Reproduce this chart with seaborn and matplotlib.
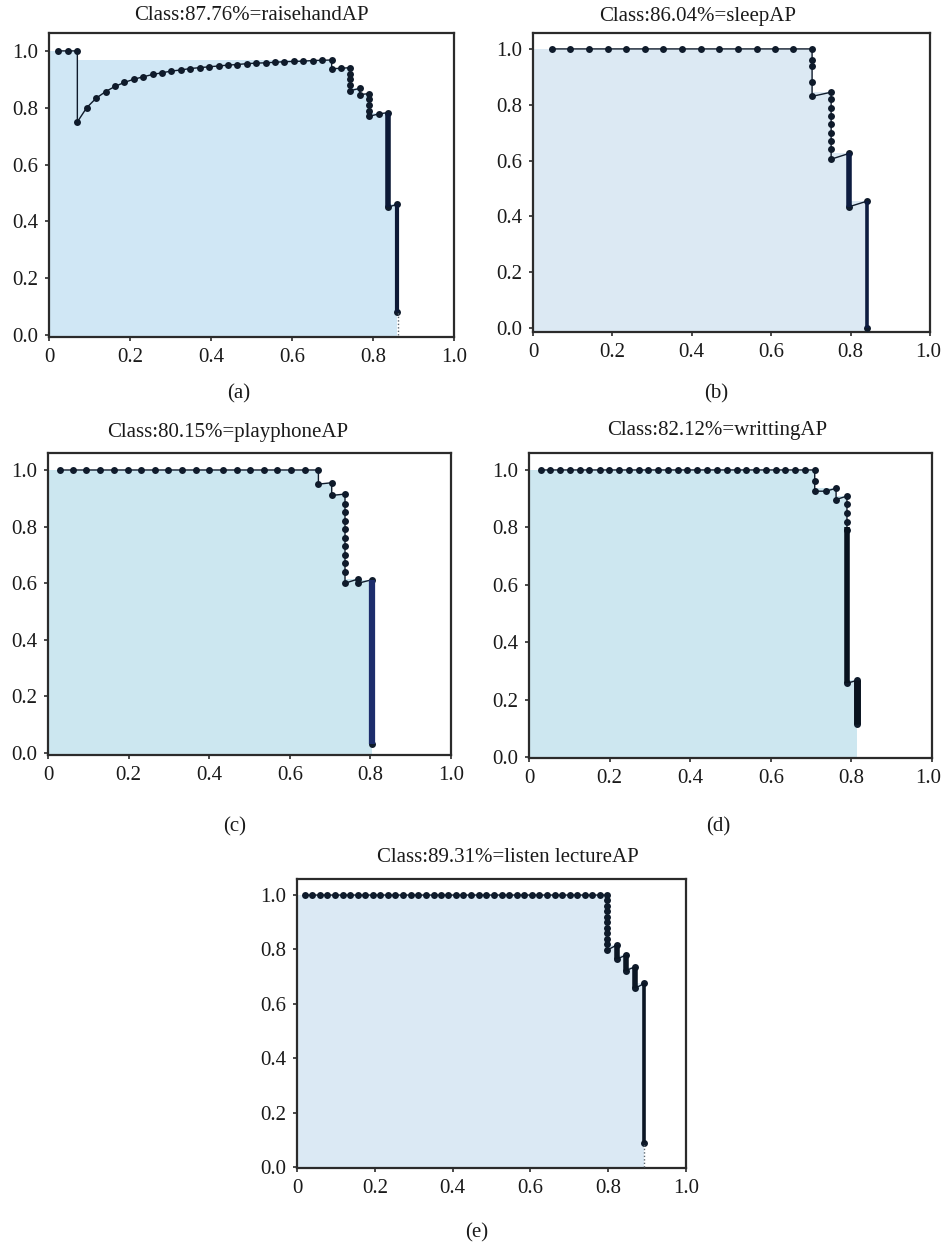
import numpy as np
import matplotlib
matplotlib.use("Agg")
import matplotlib.pyplot as plt
import matplotlib.transforms as mtrans
import seaborn as sns

# ---------------- data ----------------
titles = ["Class:87.76%=raisehandAP", "Class:86.04%=sleepAP",
          "Class:80.15%=playphoneAP", "Class:82.12%=writtingAP",
          "Class:89.31%=listen lectureAP"]
sub_labels = ["(a)", "(b)", "(c)", "(d)", "(e)"]
x_ticks = [0, 0.2, 0.4, 0.6, 0.8, 1.0]
x_tick_labels = ["0", "0.2", "0.4", "0.6", "0.8", "1.0"]
y_ticks = [0.0, 0.2, 0.4, 0.6, 0.8, 1.0]
y_tick_labels = ["0.0", "0.2", "0.4", "0.6", "0.8", "1.0"]

# (a) raisehand
a_recall = [0.023, 0.047, 0.070, 0.070, 0.093, 0.116, 0.140, 0.163, 0.186, 0.209,
            0.233, 0.256, 0.279, 0.302, 0.326, 0.349, 0.372, 0.395, 0.419, 0.442,
            0.465, 0.488, 0.512, 0.535, 0.558, 0.581, 0.605, 0.628, 0.651, 0.674,
            0.698, 0.698, 0.721, 0.744, 0.744, 0.744, 0.744, 0.744, 0.767, 0.767,
            0.791, 0.791, 0.791, 0.791, 0.791, 0.814, 0.837, 0.837, 0.860, 0.860]
a_prec = [1.0, 1.0, 1.0, 0.75, 0.80, 0.833, 0.857, 0.875, 0.889, 0.900,
          0.909, 0.917, 0.923, 0.929, 0.933, 0.938, 0.941, 0.944, 0.947, 0.950,
          0.952, 0.955, 0.957, 0.958, 0.960, 0.962, 0.963, 0.964, 0.966, 0.967,
          0.968, 0.937, 0.939, 0.941, 0.92, 0.90, 0.88, 0.86, 0.868, 0.846,
          0.850, 0.83, 0.81, 0.79, 0.77, 0.778, 0.783, 0.45, 0.46, 0.08]
a_drop_x = [0.837, 0.860]
a_drop_top = [0.783, 0.46]
a_drop_bot = [0.45, 0.08]
a_tail_x = [0.862]
a_tail_top = [0.08]

# (b) sleep
b_recall = [0.047, 0.094, 0.141, 0.188, 0.234, 0.281, 0.328, 0.375, 0.422, 0.469,
            0.516, 0.563, 0.609, 0.656, 0.703, 0.703, 0.703, 0.703, 0.703,
            0.751, 0.751, 0.751, 0.751, 0.751, 0.751, 0.751, 0.751, 0.751,
            0.797, 0.797, 0.842, 0.842]
b_prec = [1.0, 1.0, 1.0, 1.0, 1.0, 1.0, 1.0, 1.0, 1.0, 1.0,
          1.0, 1.0, 1.0, 1.0, 1.0, 0.96, 0.94, 0.88, 0.83,
          0.845, 0.82, 0.79, 0.76, 0.73, 0.70, 0.67, 0.64, 0.605,
          0.626, 0.435, 0.455, 0.0]
b_drop_x = [0.797, 0.842]
b_drop_top = [0.626, 0.455]
b_drop_bot = [0.435, 0.0]
b_tail_x = []
b_tail_top = []

# (c) playphone
c_recall = [0.029, 0.062, 0.095, 0.130, 0.164, 0.198, 0.231, 0.265, 0.299, 0.333,
            0.367, 0.400, 0.434, 0.468, 0.502, 0.536, 0.569, 0.603, 0.637, 0.671,
            0.671, 0.704, 0.704, 0.737, 0.737, 0.737, 0.737, 0.737, 0.737, 0.737,
            0.737, 0.737, 0.737, 0.737, 0.770, 0.770, 0.803, 0.803]
c_prec = [1.0, 1.0, 1.0, 1.0, 1.0, 1.0, 1.0, 1.0, 1.0, 1.0,
          1.0, 1.0, 1.0, 1.0, 1.0, 1.0, 1.0, 1.0, 1.0, 1.0,
          0.95, 0.955, 0.91, 0.915, 0.88, 0.85, 0.82, 0.79, 0.76, 0.73,
          0.70, 0.67, 0.64, 0.60, 0.615, 0.60, 0.612, 0.033]
c_drop_x = [0.803]
c_drop_top = [0.612]
c_drop_bot = [0.033]
c_tail_x = []
c_tail_top = []

# (d) writting
d_recall = [0.029, 0.053, 0.078, 0.102, 0.126, 0.150, 0.175, 0.199, 0.223, 0.248,
            0.272, 0.296, 0.321, 0.345, 0.369, 0.393, 0.418, 0.442, 0.466, 0.491,
            0.515, 0.539, 0.563, 0.588, 0.612, 0.636, 0.661, 0.685, 0.709, 0.709,
            0.709, 0.736, 0.762, 0.762, 0.789, 0.789, 0.789, 0.789, 0.789, 0.789,
            0.815, 0.815]
d_prec = [1.0, 1.0, 1.0, 1.0, 1.0, 1.0, 1.0, 1.0, 1.0, 1.0,
          1.0, 1.0, 1.0, 1.0, 1.0, 1.0, 1.0, 1.0, 1.0, 1.0,
          1.0, 1.0, 1.0, 1.0, 1.0, 1.0, 1.0, 1.0, 1.0, 0.96,
          0.926, 0.926, 0.936, 0.897, 0.909, 0.88, 0.85, 0.82, 0.79, 0.257,
          0.268, 0.117]
d_drop_x = [0.789, 0.815]
d_drop_top = [0.80, 0.268]
d_drop_bot = [0.257, 0.117]
d_tail_x = []
d_tail_top = []

# (e) listen lecture
e_recall = [0.020, 0.039, 0.059, 0.078, 0.098, 0.117, 0.137, 0.156, 0.176, 0.195,
            0.214, 0.234, 0.253, 0.273, 0.292, 0.312, 0.331, 0.351, 0.370, 0.389,
            0.409, 0.428, 0.448, 0.467, 0.487, 0.506, 0.526, 0.545, 0.565, 0.584,
            0.603, 0.623, 0.642, 0.662, 0.681, 0.701, 0.720, 0.740, 0.759, 0.779,
            0.798, 0.798, 0.798, 0.798, 0.798, 0.798, 0.798, 0.798, 0.798, 0.798,
            0.798, 0.822, 0.822, 0.845, 0.845, 0.869, 0.869, 0.893, 0.893]
e_prec = [1.0, 1.0, 1.0, 1.0, 1.0, 1.0, 1.0, 1.0, 1.0, 1.0,
          1.0, 1.0, 1.0, 1.0, 1.0, 1.0, 1.0, 1.0, 1.0, 1.0,
          1.0, 1.0, 1.0, 1.0, 1.0, 1.0, 1.0, 1.0, 1.0, 1.0,
          1.0, 1.0, 1.0, 1.0, 1.0, 1.0, 1.0, 1.0, 1.0, 1.0,
          1.0, 0.98, 0.96, 0.94, 0.92, 0.90, 0.88, 0.86, 0.84, 0.82,
          0.798, 0.816, 0.764, 0.779, 0.722, 0.736, 0.657, 0.675, 0.087]
e_drop_x = [0.822, 0.845, 0.869, 0.893]
e_drop_top = [0.816, 0.779, 0.736, 0.675]
e_drop_bot = [0.764, 0.722, 0.657, 0.087]
e_tail_x = [0.893]
e_tail_top = [0.087]

# ---------------- layout / style ----------------
W, H = 942, 1250
panels = [
    dict(r=a_recall, p=a_prec, dx=a_drop_x, dt=a_drop_top, db=a_drop_bot,
         tx=a_tail_x, tt=a_tail_top,
         box=(49, 33, 454, 337), ylim=(-0.007, 1.063), fill="#d0e7f5",
         dcol="#0c1936", dlw=[4.0, 3.0], title_xy=(251, 16), lab_xy=(239, 394)),
    dict(r=b_recall, p=b_prec, dx=b_drop_x, dt=b_drop_top, db=b_drop_bot,
         tx=b_tail_x, tt=b_tail_top,
         box=(533, 33, 930, 332), ylim=(-0.014, 1.057), fill="#dce9f3",
         dcol="#0d1c40", dlw=[4.0, 2.6], title_xy=(698, 16), lab_xy=(716, 394)),
    dict(r=c_recall, p=c_prec, dx=c_drop_x, dt=c_drop_top, db=c_drop_bot,
         tx=c_tail_x, tt=c_tail_top,
         box=(48, 453, 451, 755), ylim=(-0.007, 1.06), fill="#cce7f0",
         dcol="#1c2d6c", dlw=[4.5], title_xy=(228, 432), lab_xy=(235, 827)),
    dict(r=d_recall, p=d_prec, dx=d_drop_x, dt=d_drop_top, db=d_drop_bot,
         tx=d_tail_x, tt=d_tail_top,
         box=(529, 453, 932, 758), ylim=(-0.003, 1.059), fill="#cde7f0",
         dcol="#08121e", dlw=[4.0, 5.0], title_xy=(717, 431), lab_xy=(718, 827)),
    dict(r=e_recall, p=e_prec, dx=e_drop_x, dt=e_drop_top, db=e_drop_bot,
         tx=e_tail_x, tt=e_tail_top,
         box=(297, 879, 686, 1168), ylim=(-0.004, 1.059), fill="#dbe9f4",
         dcol="#0b1624", dlw=[4.0, 4.0, 4.0, 2.6], title_xy=(508, 858),
         lab_xy=(477, 1233)),
]

sns.set_theme(style="white")
plt.rcParams['font.family'] = ['Liberation Serif', 'DejaVu Serif']
FS = 15
line_col = "#0f1b2b"
spine_col = "#2b2b2b"

fig = plt.figure(figsize=(W / 100, H / 100), dpi=100)
fig.patch.set_facecolor("white")

for i, pn in enumerate(panels):
    l, t, r, b = pn["box"]
    ax = fig.add_axes([l / W, 1 - b / H, (r - l) / W, (b - t) / H])
    ax.set_facecolor("white")
    rec = np.asarray(pn["r"], float)
    pre = np.asarray(pn["p"], float)
    env = np.maximum.accumulate(pre[::-1])[::-1]
    ax.fill_between(np.r_[0.0, rec], pn["ylim"][0], np.r_[env[0], env], step="pre",
                    color=pn["fill"], lw=0, zorder=1)
    sns.lineplot(x=rec, y=pre, sort=False, estimator=None, ax=ax,
                 color=line_col, lw=1.0, marker="o", markersize=5,
                 markeredgewidth=0, zorder=3)
    if len(pn["dx"]):
        ax.vlines(pn["dx"], pn["db"], pn["dt"], colors=pn["dcol"],
                  lw=pn["dlw"], zorder=4)
    if len(pn["tx"]):
        ax.vlines(pn["tx"], 0, pn["tt"], colors="#5a6670", lw=1.0,
                  linestyles=(0, (1, 1.5)), zorder=4)
    ax.set_xlim(0, 1)
    ax.set_ylim(*pn["ylim"])
    ax.set_xticks(x_ticks)
    ax.set_xticklabels(x_tick_labels)
    ax.set_yticks(y_ticks)
    ax.set_yticklabels(y_tick_labels)
    ax.tick_params(direction="out", length=3, width=1.2, colors=spine_col,
                   labelcolor="#1a1a1a", labelsize=FS, pad=5,
                   bottom=True, left=True)
    # keep the right-most tick label inside the figure for right-column panels
    if r > W - 20:
        last = ax.get_xticklabels()[-1]
        last.set_horizontalalignment("right")
        last.set_transform(mtrans.offset_copy(last.get_transform(), fig=fig,
                                              x=W - 1 - r, y=0, units="dots"))
    for s in ax.spines.values():
        s.set_visible(True)
        s.set_color(spine_col)
        s.set_linewidth(1.6)
    ax.set_xlabel("")
    ax.set_ylabel("")
    ax.grid(False)
    tx, ty = pn["title_xy"]
    fig.text(tx / W, 1 - ty / H, titles[i], ha="center", va="center",
             fontsize=FS, color="#1a1a1a")
    lx, ly = pn["lab_xy"]
    fig.text(lx / W, 1 - ly / H, sub_labels[i], ha="center", va="center",
             fontsize=FS, color="#1a1a1a")

fig.savefig("out.png", dpi=100, facecolor="white")
